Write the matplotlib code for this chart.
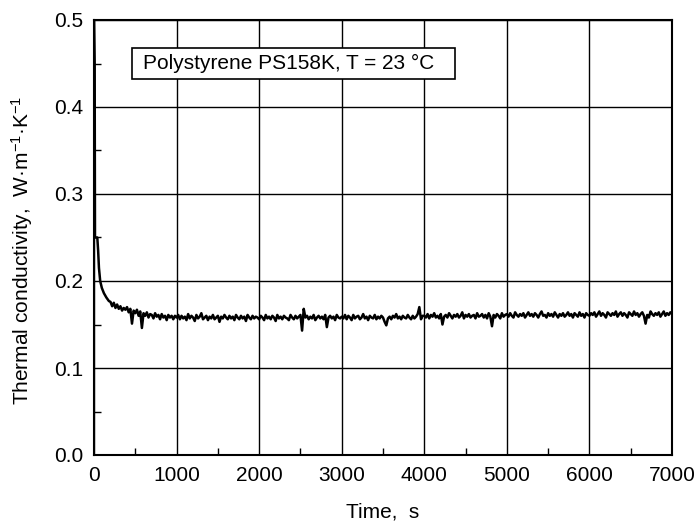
import matplotlib
import matplotlib.pyplot as plt
plt.switch_backend('agg')
from matplotlib.ticker import MultipleLocator, FormatStrFormatter
from matplotlib.patches import Rectangle
import numpy as np

plt.rcParams['font.family'] = ['Liberation Sans', 'DejaVu Sans']
plt.rcParams['mathtext.fontset'] = 'custom'
plt.rcParams['mathtext.rm'] = 'Liberation Sans'
plt.rcParams['mathtext.it'] = 'Liberation Sans'

# early transient
t_start = [0, 8, 12, 40, 50, 60, 75, 95, 120, 150, 180]
k_start = [0.500, 0.450, 0.250, 0.250, 0.235, 0.215, 0.200, 0.192, 0.186, 0.181, 0.177]

# readings every 20 s from 200 s to 7000 s, in mW/(m K)
k_noisy = [
    # 200 - 980
    176, 171, 175, 169, 173, 168, 171, 166, 169, 167, 170, 164, 168, 151, 166, 163, 167, 160, 165, 146,
    163, 160, 164, 158, 162, 161, 157, 163, 159, 161, 156, 162, 158, 160, 155, 161, 158, 160, 156, 160,
    # 1000 - 1980
    158, 161, 156, 160, 157, 159, 155, 162, 157, 160, 158, 154, 161, 157, 159, 163, 156, 158, 160, 155,
    159, 157, 161, 156, 158, 160, 153, 159, 157, 161, 158, 156, 160, 157, 159, 155, 161, 158, 156, 160,
    157, 159, 154, 161, 158, 156, 160, 157, 159, 158,
    # 2000 - 2980
    156, 160, 158, 155, 161, 157, 159, 156, 160, 158, 154, 161, 157, 159, 156, 160, 158, 157, 155, 161,
    158, 156, 160, 157, 159, 161, 143, 168, 158, 160, 156, 159, 157, 161, 155, 158, 160, 157, 159, 156,
    161, 147, 158, 160, 157, 159, 155, 161, 158, 157,
    # 3000 - 3980
    159, 157, 161, 156, 160, 158, 155, 161, 157, 159, 160, 156, 158, 162, 157, 159, 155, 160, 158, 157,
    161, 156, 159, 157, 160, 158, 153, 149, 157, 159, 156, 160, 158, 162, 157, 159, 156, 160, 158, 157,
    161, 158, 156, 160, 157, 159, 162, 170, 156, 160,
    # 4000 - 4980
    160, 158, 162, 157, 161, 159, 163, 158, 160, 157, 162, 150, 159, 161, 158, 163, 160, 157, 161, 159,
    162, 158, 160, 164, 157, 161, 159, 162, 158, 160, 161, 157, 163, 159, 160, 162, 158, 161, 157, 163,
    159, 148, 161, 158, 162, 160, 157, 163, 159, 161,
    # 5000 - 5980
    162, 159, 163, 160, 158, 164, 161, 159, 162, 160, 163, 158, 161, 164, 160, 162, 159, 163, 161, 158,
    162, 165, 160, 161, 158, 163, 160, 162, 159, 164, 161, 158, 162, 160, 163, 159, 161, 164, 160, 162,
    158, 163, 161, 159, 164, 160, 162, 158, 163, 161,
    # 6000 - 7000
    160, 163, 161, 164, 159, 162, 165, 160, 163, 161, 158, 164, 162, 160, 163, 161, 165, 159, 162, 164,
    160, 163, 161, 158, 164, 162, 160, 165, 161, 163, 159, 162, 164, 160, 151, 161, 158, 165, 162, 160,
    163, 161, 164, 159, 162, 165, 160, 163, 161, 164, 162,
]

t_noisy = np.arange(200, 7001, 20)
t = np.concatenate([t_start, t_noisy])
k = np.concatenate([k_start, np.array(k_noisy) / 1000.0])

fig = plt.figure(figsize=(6.99, 5.25), dpi=100)
ax = fig.add_axes([94 / 699, 1 - 455 / 525, (672 - 94) / 699, (455 - 20) / 525])

ax.plot(t, k, color='black', lw=1.8)

ax.set_xlim(0, 7000)
ax.set_ylim(0, 0.5)
ax.xaxis.set_major_locator(MultipleLocator(1000))
ax.xaxis.set_minor_locator(MultipleLocator(500))
ax.yaxis.set_major_locator(MultipleLocator(0.1))
ax.yaxis.set_minor_locator(MultipleLocator(0.05))
ax.yaxis.set_major_formatter(FormatStrFormatter('%.1f'))
ax.grid(True, which='major', color='black', lw=1.0)
ax.tick_params(which='both', direction='in', labelsize=15, width=1.0)
ax.tick_params(which='major', length=0, pad=8)
ax.tick_params(which='minor', length=5)
for s in ax.spines.values():
    s.set_linewidth(1.5)

ax.set_xlabel('Time,  s', fontsize=15)
ax.xaxis.set_label_coords(0.5, -0.11)
ax.set_ylabel('Thermal conductivity,  W\u00b7m$^{-1}$\u00b7K$^{-1}$', fontsize=15)
ax.yaxis.set_label_coords(-0.102, 0.47)

ax.add_patch(Rectangle((0.0657, 0.8644), 0.5589, 0.0712, transform=ax.transAxes,
                       facecolor='white', edgecolor='black', lw=1.2, zorder=3))
ax.text(0.0848, 0.900, 'Polystyrene PS158K, T = 23 \u00b0C', transform=ax.transAxes,
        fontsize=15, va='center', ha='left', zorder=4)

plt.savefig('out.png', dpi=100)
plt.close()
